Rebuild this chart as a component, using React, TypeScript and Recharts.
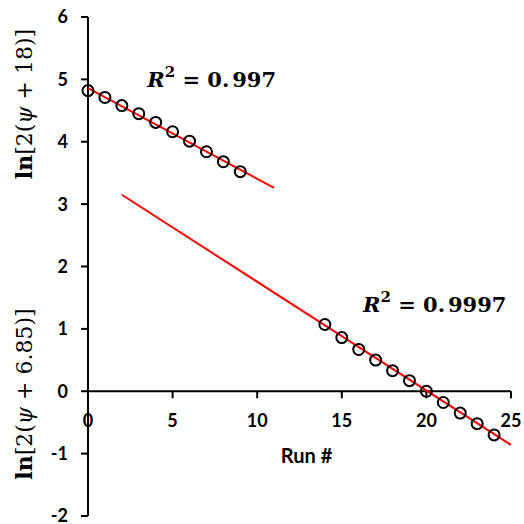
import React from 'react';
import { ComposedChart, XAxis, YAxis, Scatter, ReferenceLine } from 'recharts';

const runsA = [0, 1, 2, 3, 4, 5, 6, 7, 8, 9];
const valuesA = [4.82, 4.71, 4.58, 4.45, 4.31, 4.16, 4.01, 3.84, 3.68, 3.52];
const runsB = [14, 15, 16, 17, 18, 19, 20, 21, 22, 23, 24];
const valuesB = [1.07, 0.86, 0.67, 0.5, 0.33, 0.17, 0.0, -0.18, -0.35, -0.52, -0.7];
const fitA = [{ x: 0, y: 4.86 }, { x: 11, y: 3.26 }];
const fitB = [{ x: 2, y: 3.15 }, { x: 25, y: -0.86 }];
const xTicks = [0, 5, 10, 15, 20, 25];
const yTicks = [-2, -1, 0, 1, 2, 3, 4, 5, 6];
const annotations = [
  { x: 3.5, y: 4.88, text: '0.997' },
  { x: 16.25, y: 1.27, text: '0.9997' },
];

const ptsA = runsA.map((x, i) => ({ x, y: valuesA[i] }));
const ptsB = runsB.map((x, i) => ({ x, y: valuesB[i] }));
const xTickData = xTicks.map((x) => ({ x, y: 0 }));

const tickFont = 'Lato, "Open Sans", sans-serif';
const mathFont = '"DejaVu Serif", "Liberation Serif", serif';

const Circle = (p: any) => (
  <circle cx={p.cx} cy={p.cy} r={5.5} fill="none" stroke="#000" strokeWidth={2} />
);

const XTick = (p: any) => (
  <g>
    <line x1={p.cx} y1={p.cy} x2={p.cx} y2={p.cy + 7} stroke="#000" strokeWidth={2} />
    <text x={p.cx} y={p.cy + 36} textAnchor="middle" fontFamily={tickFont} fontWeight={700} fontSize={18} fill="#000">
      {p.payload.x}
    </text>
  </g>
);

const Annot = (p: any) => (
  <text x={p.cx} y={p.cy} fontFamily={mathFont} fontWeight={700} fontSize={21} fill="#000">
    <tspan fontStyle="italic">R</tspan>
    <tspan dy={-10} fontSize={15}>2</tspan>
    <tspan dy={10}> = 0.</tspan>
    <tspan dx={3}>{p.payload.text.slice(2)}</tspan>
  </text>
);

const YLabels = (props: any) => {
  const vb = props.viewBox;
  const cx = 24;
  const y1 = vb.y + 87;
  const y2 = vb.y + 377;
  return (
    <g>
      <text x={cx} y={y1} transform={`rotate(-90 ${cx} ${y1})`} textAnchor="middle" dominantBaseline="central" fontFamily={mathFont} fontSize={22} fill="#000">
        <tspan fontWeight={700}>ln</tspan>[2(<tspan fontStyle="italic">ψ</tspan> + 18)]
      </text>
      <text x={cx} y={y2} transform={`rotate(-90 ${cx} ${y2})`} textAnchor="middle" dominantBaseline="central" fontFamily={mathFont} fontSize={22} fill="#000">
        <tspan fontWeight={700}>ln</tspan>[2(<tspan fontStyle="italic">ψ</tspan> + 6.85)]
      </text>
    </g>
  );
};

export default function App() {
  return (
    <div style={{ position: 'fixed', left: 0, top: 0, width: 524, height: 524, overflow: 'hidden', background: '#fff' }}>
      <ComposedChart width={524} height={524} margin={{ top: 17, right: 13, bottom: 8, left: 8 }}>
        <XAxis type="number" dataKey="x" domain={[0, 25]} ticks={xTicks} hide />
        <YAxis
          type="number"
          dataKey="y"
          domain={[-2, 6]}
          ticks={yTicks}
          interval={0}
          width={80}
          axisLine={{ stroke: '#000', strokeWidth: 2 }}
          tickLine={{ stroke: '#000', strokeWidth: 2 }}
          tickSize={7}
          tickMargin={13}
          tick={{ fill: '#000', fontFamily: tickFont, fontWeight: 700, fontSize: 18 }}
          label={<YLabels />}
        />
        <ReferenceLine
          y={0}
          stroke="#000"
          strokeWidth={2}
          label={{ value: 'Run #', position: 'bottom', offset: 58, dx: 7, fill: '#000', fontFamily: tickFont, fontWeight: 700, fontSize: 20 }}
        />
        <Scatter data={xTickData} shape={XTick} isAnimationActive={false} />
        <Scatter data={fitA} line={{ stroke: '#ff0000', strokeWidth: 2 }} lineType="joint" shape={() => null} isAnimationActive={false} />
        <Scatter data={fitB} line={{ stroke: '#ff0000', strokeWidth: 2 }} lineType="joint" shape={() => null} isAnimationActive={false} />
        <Scatter data={ptsA} shape={Circle} isAnimationActive={false} />
        <Scatter data={ptsB} shape={Circle} isAnimationActive={false} />
        <Scatter data={annotations} shape={Annot} isAnimationActive={false} />
      </ComposedChart>
    </div>
  );
}
